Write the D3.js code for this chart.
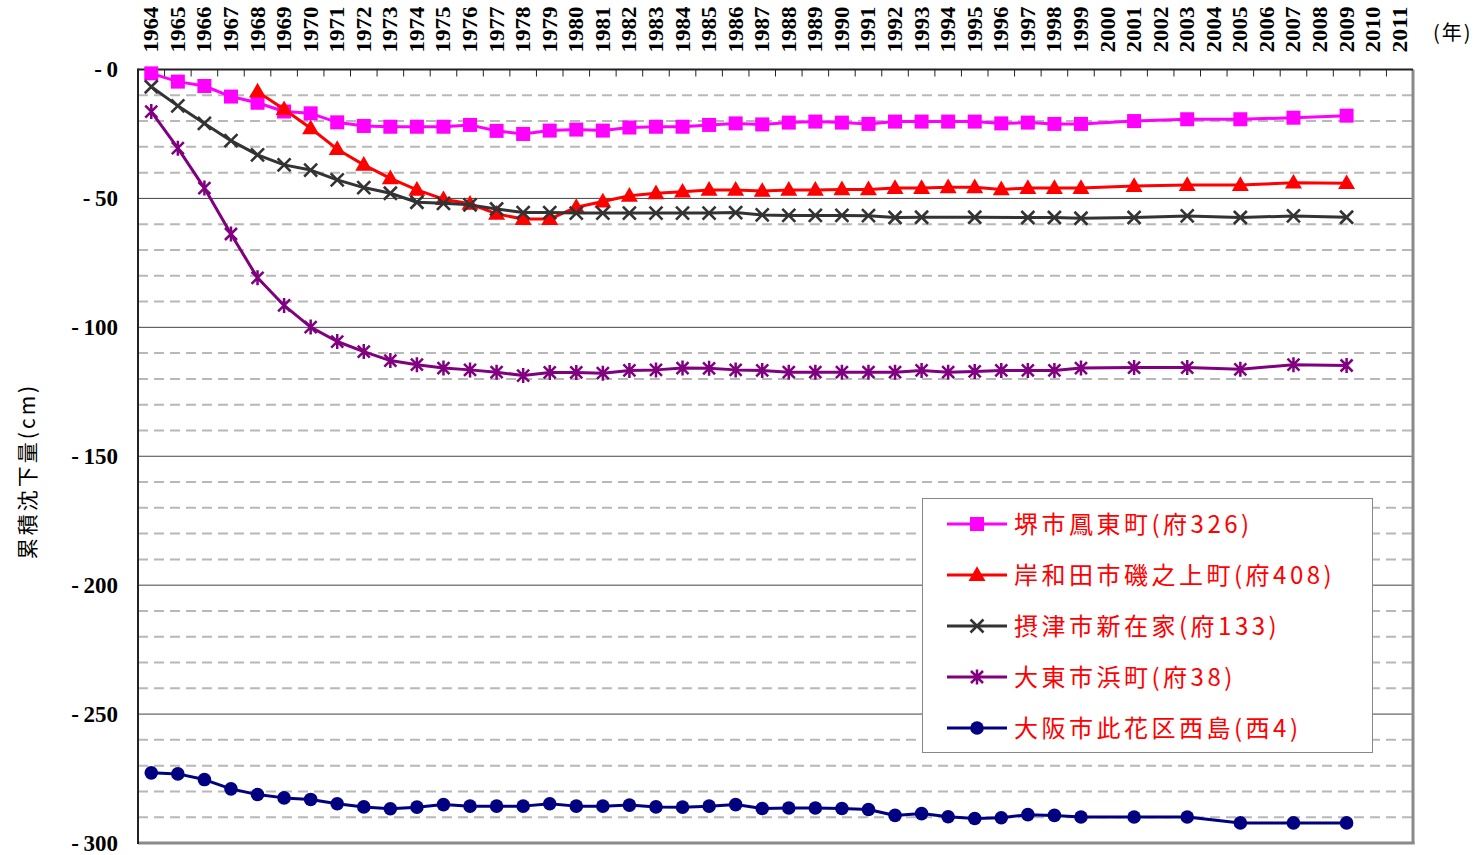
<!DOCTYPE html>
<html>
<head>
<meta charset="utf-8">
<script src="https://cdn.jsdelivr.net/npm/d3@7"></script>
<style>
  body { margin: 0; background: #fff; }
  svg { display: block; }
</style>
</head>
<body>
<svg id="chart" width="1482" height="855"></svg>
<script>
// category axis (top), 1964 .. 2011
const years = [1964, 1965, 1966, 1967, 1968, 1969, 1970, 1971, 1972, 1973, 1974, 1975,
  1976, 1977, 1978, 1979, 1980, 1981, 1982, 1983, 1984, 1985, 1986, 1987, 1988, 1989,
  1990, 1991, 1992, 1993, 1994, 1995, 1996, 1997, 1998, 1999, 2000, 2001, 2002, 2003,
  2004, 2005, 2006, 2007, 2008, 2009, 2010, 2011]

// years that have a survey value
const dataYears = [1964, 1965, 1966, 1967, 1968, 1969, 1970, 1971, 1972, 1973, 1974, 1975,
  1976, 1977, 1978, 1979, 1980, 1981, 1982, 1983, 1984, 1985, 1986, 1987, 1988, 1989,
  1990, 1991, 1992, 1993, 1994, 1995, 1996, 1997, 1998, 1999, 2001, 2003, 2005, 2007, 2009]

const yTicks = [0, -50, -100, -150, -200, -250, -300]

const sakai = [-1.5, -4.7, -6.4, -10.5, -12.9, -16.3, -17.0, -20.5, -21.9, -22.2, -22.2, -22.2,
  -21.5, -23.8, -25.0, -23.7, -23.3, -23.7, -22.5, -22.2, -22.2, -21.5, -20.9, -21.3, -20.6, -20.2,
  -20.6, -21.1, -20.2, -20.2, -20.2, -20.2, -20.9, -20.6, -21.1, -21.1, -20.0, -19.3, -19.3, -18.7, -17.9]

const kishiwada = [null, null, null, null, -8.6, -15.4, -22.8, -30.9, -37.0, -42.2, -46.7, -50.3,
  -52.1, -56.0, -58.0, -58.0, -53.4, -51.2, -49.0, -48.0, -47.4, -46.7, -46.7, -47.1, -46.7, -46.7,
  -46.5, -46.5, -46.0, -46.0, -45.7, -45.7, -46.5, -46.0, -46.0, -46.0, -45.2, -44.8, -44.8, -43.9, -44.1]

const settsu = [-6.7, -14.1, -20.9, -27.6, -33.1, -37.0, -39.0, -42.8, -45.8, -48.0, -51.5, -51.9,
  -52.5, -54.1, -55.5, -55.5, -55.7, -55.7, -55.7, -55.7, -55.7, -55.7, -55.5, -56.4, -56.6, -56.6,
  -56.6, -56.7, -57.4, -57.3, null, -57.3, null, -57.4, -57.4, -57.7, -57.4, -56.8, -57.4, -56.8, -57.3]

const daito = [-16.3, -30.5, -46.0, -63.8, -80.8, -91.5, -99.9, -105.5, -109.4, -112.9, -114.5, -115.8,
  -116.5, -117.4, -118.7, -117.5, -117.5, -117.8, -116.7, -116.5, -115.8, -115.9, -116.5, -116.7, -117.4, -117.4,
  -117.4, -117.4, -117.4, -116.7, -117.4, -117.1, -116.7, -116.7, -116.7, -115.8, -115.6, -115.6, -116.3, -114.5, -114.8]

const nishijima = [-272.8, -273.2, -275.4, -279.0, -281.2, -282.5, -283.1, -284.8, -286.0, -286.7, -286.1, -285.1,
  -285.7, -285.7, -285.7, -284.8, -285.7, -285.7, -285.3, -286.0, -286.1, -285.7, -285.1, -286.6, -286.4, -286.4,
  -286.6, -287.0, -289.3, -288.6, -289.8, -290.5, -290.2, -289.0, -289.3, -289.9, -289.9, -289.9, -292.2, -292.2, -292.2]

const seriesNames = ['堺市鳳東町(府326)', '岸和田市磯之上町(府408)', '摂津市新在家(府133)',
  '大東市浜町(府38)', '大阪市此花区西島(西4)']
const seriesValues = [sakai, kishiwada, settsu, daito, nishijima]
const seriesColors = ['#FF00FF', '#FF0000', '#333333', '#800080', '#000080']
const seriesMarkers = ['square', 'triangle', 'x', 'star', 'circle']

const svg = d3.select('#chart')
const plot = { left: 138, right: 1413, top: 69.5, bottom: 843 }

const x = d3.scaleBand().domain(years).range([plot.left, plot.right])
const cx = yr => x(yr) + x.bandwidth() / 2
const y = d3.scaleLinear().domain([0, -300]).range([plot.top, plot.bottom])

// minor dashed grid every 10, solid every 50
const grid = svg.append('g')
d3.range(-10, -300, -10).filter(v => v % 50 !== 0).forEach(v => {
  grid.append('line')
    .attr('x1', plot.left).attr('x2', plot.right)
    .attr('y1', y(v)).attr('y2', y(v))
    .attr('stroke', '#B8B8B8')
    .attr('stroke-width', 2)
    .attr('stroke-dasharray', '10,6')
})
yTicks.filter(v => v !== 0 && v !== -300).forEach(v => {
  grid.append('line')
    .attr('x1', plot.left).attr('x2', plot.right)
    .attr('y1', y(v)).attr('y2', y(v))
    .attr('stroke', '#444')
    .attr('stroke-width', 1)
})

// plot border: dark top/left, grey right/bottom
svg.append('line').attr('x1', plot.right).attr('x2', plot.right)
  .attr('y1', plot.top).attr('y2', plot.bottom + 1)
  .attr('stroke', '#8A8A8A').attr('stroke-width', 3)
svg.append('line').attr('x1', plot.left).attr('x2', plot.right + 1.5)
  .attr('y1', plot.bottom).attr('y2', plot.bottom)
  .attr('stroke', '#8A8A8A').attr('stroke-width', 3)
svg.append('line').attr('x1', plot.left).attr('x2', plot.right)
  .attr('y1', plot.top).attr('y2', plot.top)
  .attr('stroke', '#222').attr('stroke-width', 2)
svg.append('line').attr('x1', plot.left).attr('x2', plot.left)
  .attr('y1', plot.top - 1).attr('y2', plot.bottom + 1)
  .attr('stroke', '#222').attr('stroke-width', 2)

// top category ticks sit on band edges, pointing down
years.slice(1).forEach(yr => {
  svg.append('line')
    .attr('x1', x(yr)).attr('x2', x(yr))
    .attr('y1', plot.top).attr('y2', plot.top + 7)
    .attr('stroke', '#222').attr('stroke-width', 1)
})

// top year labels
const topAxis = svg.append('g')
  .attr('transform', `translate(0,${plot.top})`)
  .call(d3.axisTop(x).tickSize(0).tickPadding(0))
topAxis.select('.domain').remove()
topAxis.selectAll('text')
  .attr('transform', `translate(0,-17) rotate(-90)`)
  .attr('x', 0).attr('y', 0).attr('dy', '0.35em')
  .attr('text-anchor', 'start')
  .attr('textLength', 46)
  .attr('lengthAdjust', 'spacingAndGlyphs')
  .style('font-family', '"Liberation Serif", "DejaVu Serif", serif')
  .style('font-weight', 'bold')
  .style('font-size', '20px')
  .attr('fill', '#000')

svg.append('text')
  .attr('x', 1433).attr('y', 40)
  .attr('text-anchor', 'start')
  .style('font-family', '"Noto Sans CJK JP", sans-serif')
  .style('font-size', '20px')
  .style('letter-spacing', '2px')
  .text('(年)')

// left value labels
const leftAxis = svg.append('g')
  .attr('transform', `translate(${plot.left},0)`)
  .call(d3.axisLeft(y).tickValues(yTicks).tickSize(0).tickPadding(20)
    .tickFormat(d => '-\u2009' + Math.abs(d)))
leftAxis.select('.domain').remove()
leftAxis.selectAll('text')
  .style('font-family', '"Liberation Serif", "DejaVu Serif", serif')
  .style('font-weight', 'bold')
  .style('font-size', '23px')
  .attr('fill', '#000')

svg.append('text')
  .attr('transform', 'translate(35,471) rotate(-90)')
  .attr('text-anchor', 'middle')
  .style('font-family', '"Noto Sans CJK JP", sans-serif')
  .style('font-size', '21px')
  .style('letter-spacing', '3px')
  .text('累積沈下量(cm)')

function drawMarker(g, type, px, py, color) {
  if (type === 'square') {
    g.append('rect').attr('x', px - 7).attr('y', py - 7)
      .attr('width', 14).attr('height', 14).attr('fill', color)
  } else if (type === 'triangle') {
    g.append('path').attr('d', d3.symbol(d3.symbolTriangle, 125)())
      .attr('transform', `translate(${px},${py + 1})`).attr('fill', color)
  } else if (type === 'circle') {
    g.append('circle').attr('cx', px).attr('cy', py).attr('r', 6.8).attr('fill', color)
  } else if (type === 'x') {
    g.append('path')
      .attr('d', `M${px - 6.5},${py - 6.5}L${px + 6.5},${py + 6.5}M${px - 6.5},${py + 6.5}L${px + 6.5},${py - 6.5}`)
      .attr('stroke', color).attr('stroke-width', 2.6).attr('fill', 'none')
  } else if (type === 'star') {
    g.append('path')
      .attr('d', `M${px - 6},${py - 6}L${px + 6},${py + 6}M${px - 6},${py + 6}L${px + 6},${py - 6}M${px},${py - 7.5}L${px},${py + 7.5}`)
      .attr('stroke', color).attr('stroke-width', 2.5).attr('fill', 'none')
  }
}

const line = d3.line().x(d => cx(d.year)).y(d => y(d.value))

seriesValues.forEach((vals, i) => {
  const pts = dataYears.map((yr, j) => ({ year: yr, value: vals[j] }))
    .filter(d => d.value !== null)
  const g = svg.append('g')
  g.append('path')
    .datum(pts)
    .attr('d', line)
    .attr('fill', 'none')
    .attr('stroke', seriesColors[i])
    .attr('stroke-width', 3)
    .attr('stroke-linejoin', 'round')
  pts.forEach(d => drawMarker(g, seriesMarkers[i], cx(d.year), y(d.value), seriesColors[i]))
})

// legend
const legend = svg.append('g')
legend.append('rect')
  .attr('x', 922.5).attr('y', 498.5)
  .attr('width', 450).attr('height', 254)
  .attr('fill', '#fff').attr('stroke', '#888').attr('stroke-width', 1)
seriesNames.forEach((name, i) => {
  const ly = 524 + i * 51
  legend.append('line')
    .attr('x1', 947).attr('x2', 1007).attr('y1', ly).attr('y2', ly)
    .attr('stroke', seriesColors[i]).attr('stroke-width', 3)
  drawMarker(legend, seriesMarkers[i], 977, ly, seriesColors[i])
  legend.append('text')
    .attr('x', 1014).attr('y', ly).attr('dy', '0.36em')
    .attr('fill', '#FF0000')
    .style('font-family', '"Noto Sans CJK JP", sans-serif')
    .style('font-size', '24px')
    .style('letter-spacing', '3.5px')
    .text(name)
})
</script>
</body>
</html>
